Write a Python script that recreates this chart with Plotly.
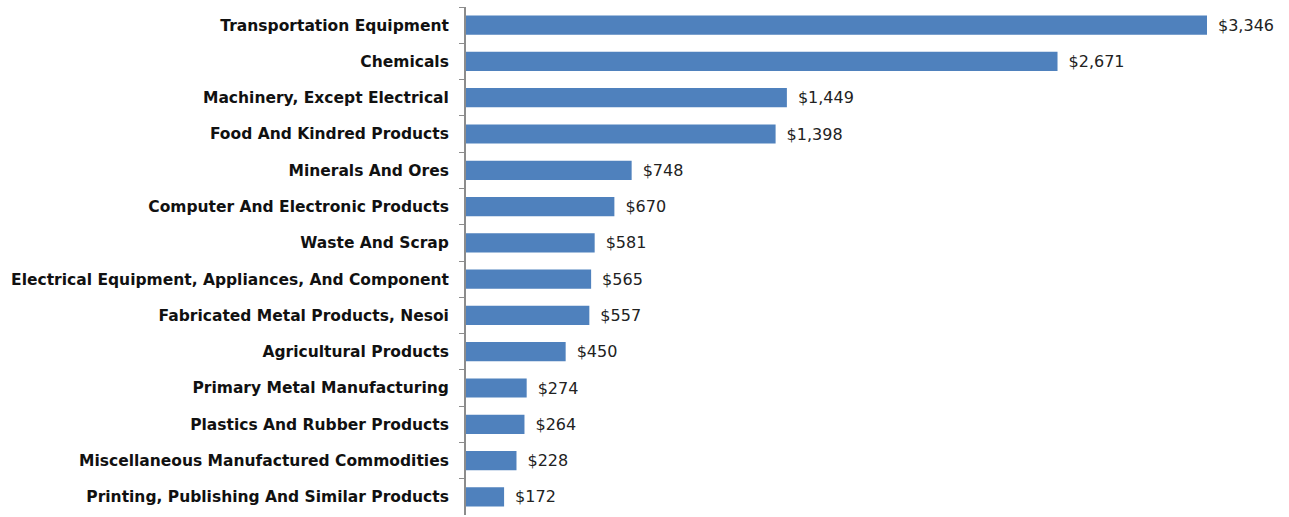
import plotly.graph_objects as go

categories = [
    "Transportation Equipment",
    "Chemicals",
    "Machinery, Except Electrical",
    "Food And Kindred Products",
    "Minerals And Ores",
    "Computer And Electronic Products",
    "Waste And Scrap",
    "Electrical Equipment, Appliances, And Component",
    "Fabricated Metal Products, Nesoi",
    "Agricultural Products",
    "Primary Metal Manufacturing",
    "Plastics And Rubber Products",
    "Miscellaneous Manufactured Commodities",
    "Printing, Publishing And Similar Products",
]
values = [3346, 2671, 1449, 1398, 748, 670, 581, 565, 557, 450, 274, 264, 228, 172]

# value labels, with a small lead-in gap from the bar end
labels = ["\u2002${:,}".format(v) for v in values]

fig = go.Figure(
    go.Bar(
        x=values,
        y=categories,
        orientation="h",
        marker=dict(color="#4F81BD", line=dict(width=0)),
        text=labels,
        textposition="outside",
        textfont=dict(family="DejaVu Sans", size=16, color="#222222"),
        cliponaxis=False,
        width=0.53,
    )
)

fig.update_layout(
    width=1289,
    height=517,
    margin=dict(l=466, r=23, t=7, b=2),
    plot_bgcolor="white",
    paper_bgcolor="white",
    showlegend=False,
    xaxis=dict(
        range=[0, 3346 * 800 / 741],
        showgrid=False,
        zeroline=False,
        showticklabels=False,
        showline=False,
    ),
    yaxis=dict(
        autorange="reversed",
        showgrid=False,
        showline=True,
        linecolor="#8c8c8c",
        linewidth=2,
        ticks="outside",
        tickson="boundaries",
        ticklen=5,
        tickcolor="#8c8c8c",
        tickwidth=1,
        ticklabelstandoff=12,
        tickfont=dict(family="DejaVu Sans", size=15.5, color="#111111", weight="bold"),
    ),
)

fig.write_html("out.html")
